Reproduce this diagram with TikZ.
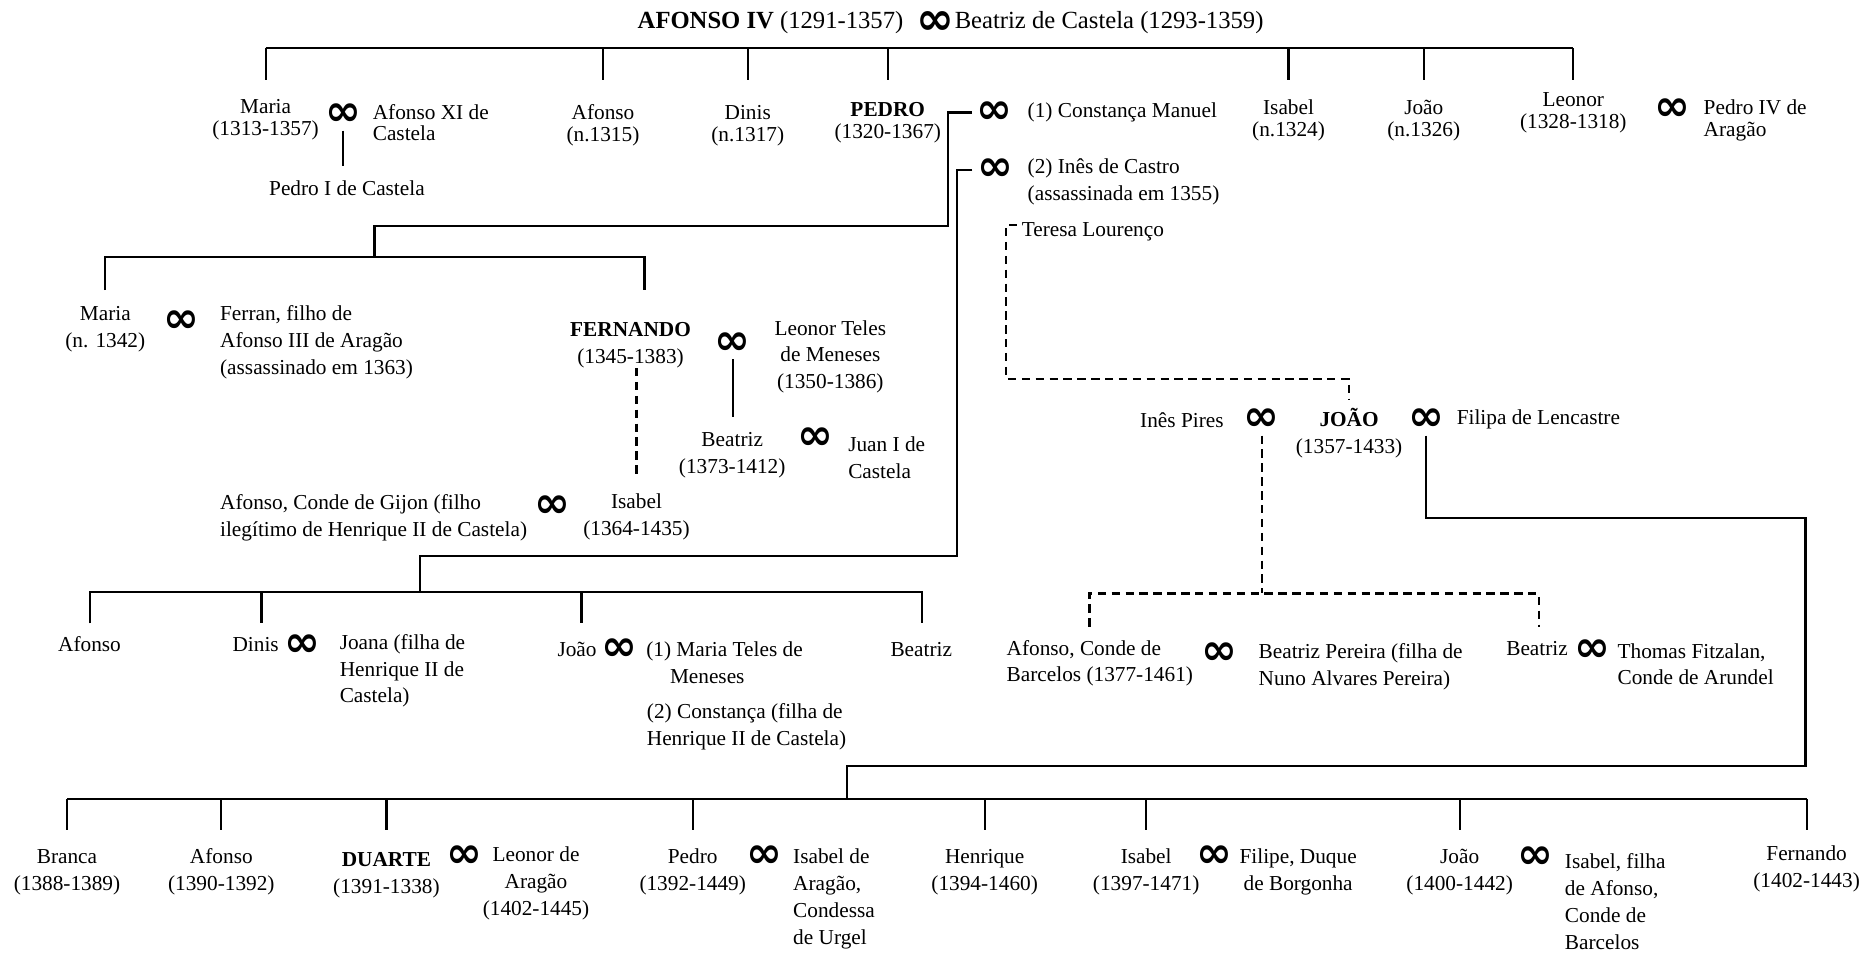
\documentclass[tikz,border=0pt]{standalone}
\usepackage{fontspec}
\setmainfont{Liberation Serif}
\newfontfamily\symf{DejaVu Sans}
\usetikzlibrary{calc}
\newcommand{\fnt}{\fontsize{8.9pt}{11.2pt}\selectfont}
\newcommand{\fntt}{\fontsize{8.9pt}{9pt}\selectfont}
\newcommand{\fnttop}{\fontsize{10.3pt}{12pt}\selectfont}
\begin{document}
\begin{tikzpicture}[x=0.5pt,y=-0.5pt,
  every node/.style={inner sep=0pt,outer sep=0pt,font=\fnt},
  ctr/.style={anchor=base,align=center},
  lft/.style={anchor=base west,align=left},
  tight/.style={font=\fntt},
  marr/.style={font=\symf\bfseries\fontsize{18pt}{18pt}\selectfont,inner sep=2pt,anchor=center},
  link/.style={line width=0.9pt},
  illeg/.style={line width=0.9pt,dash pattern=on 3.5pt off 2.3pt},
]
\useasboundingbox (0,0) rectangle (1568,797);

% ---- generation 0
\node[lft,font=\fnttop] (afonsoIV) at (533,24) {\textbf{AFONSO IV} (1291-1357)};
\node[marr,font=\symf\bfseries\fontsize{19pt}{19pt}\selectfont] (m0) at (782,19) {∞};
\node[lft,font=\fnttop] (beatrizC0) at (798,24) {Beatriz de Castela (1293-1359)};

% ---- generation 1 (base anchor = last line)
\node[ctr,tight] (maria) at (222,113) {Maria\\(1313-1357)};
\node[marr] (m1) at (287,96) {∞};
\node[lft,tight] (afonsoXI) at (311.6,117.7) {Afonso XI de\\Castela};
\node[ctr] (pedroI) at (290,163) {Pedro I de Castela};
\node[ctr,tight] (afonsoA) at (504,118) {Afonso\\(n.1315)};
\node[ctr,tight] (dinisA) at (625,118) {Dinis\\(n.1317)};
\node[ctr,tight] (pedro) at (742,115.5) {\textbf{PEDRO}\\(1320-1367)};
\node[ctr,tight] (isabelA) at (1077,114) {Isabel\\(n.1324)};
\node[ctr,tight] (joaoA) at (1190,114) {João\\(n.1326)};
\node[ctr,tight] (leonor) at (1315,107) {Leonor\\(1328-1318)};
\node[marr] (mL) at (1397.6,92) {∞};
\node[lft,tight] (pedroIV) at (1424,114) {Pedro IV de\\Aragão};

\coordinate (barA) at (0,40.4);
\coordinate (stubA) at (0,67);
\draw[link] (maria |- barA) -- (leonor |- barA);
\foreach \n in {maria,afonsoA,dinisA,pedro,isabelA,joaoA,leonor}
  \draw[link] (\n |- barA) -- (\n |- stubA);
\draw[link,shorten >=6pt] (m1.south) -- (m1.south |- pedroI.north);

% ---- Pedro's marriages
\node[marr] (mC) at (831.5,94) {∞};
\node[lft] (constanca) at (859,98.4) {(1) Constança Manuel};
\node[marr] (mI) at (831.7,142) {∞};
\node[lft] (inesC) at (859,167.3) {(2) Inês de Castro\\(assassinada em 1355)};
\node[lft] (teresa) at (854,197.8) {Teresa Lourenço};

% children of Constança
\node[ctr] (mariaC) at (88,290.4) {Maria\\(n. 1342)};
\node[marr] (m2) at (151.8,269) {∞};
\node[lft] (ferran) at (184,312.8) {Ferran, filho de\\Afonso III de Aragão\\(assassinado em 1363)};
\node[ctr] (fernando) at (527,303.8) {\textbf{FERNANDO}\\(1345-1383)};
\node[marr] (m3) at (612.4,287) {∞};
\node[ctr] (leonorT) at (694,324.8) {Leonor Teles\\de Meneses\\(1350-1386)};
\node[ctr] (beatrizF) at (612,395.4) {Beatriz\\(1373-1412)};
\node[marr] (m4) at (681.5,366.4) {∞};
\node[lft] (juan) at (709,399.9) {Juan I de\\Castela};
\node[lft] (gijon) at (184,448.4) {Afonso, Conde de Gijon (filho\\ilegítimo de Henrique II de Castela)};
\node[marr] (m5) at (462,423.5) {∞};
\node[ctr] (isabelF) at (532,447.4) {Isabel\\(1364-1435)};

\coordinate (kC) at (792,189);
\coordinate (bC) at (313,214.5);
\coordinate (sC1) at (88,242.4);
\coordinate (sC2) at (538.7,242.4);
\draw[link] (mC.west) -- (mC.west -| kC) -- (kC) -- (kC -| bC) -- (bC);
\draw[link] (sC1) -- (sC1 |- bC) -- (sC2 |- bC) -- (sC2);
\draw[link,shorten >=6.5pt] (m3.south) -- (m3.south |- beatrizF.north);
\draw[illeg,shorten >=7.5pt] (isabelF.north |- fernando.south) -- (isabelF.north);

% children of Inês de Castro
\node[lft] (afonsoI) at (48.6,544.7) {Afonso};
\node[lft] (dinisI) at (194.4,544.7) {Dinis};
\node[marr] (m6) at (253,540) {∞};
\node[lft] (joana) at (284,587.5) {Joana (filha de\\Henrique II de\\Castela)};
\node[lft] (joaoI) at (466,548.9) {João};
\node[marr] (m7) at (517.6,543.3) {∞};
\node[lft] (mteles) at (540.2,571.4) {(1) Maria Teles de\\\hspace*{9.9pt}Meneses};
\node[lft] (constB) at (540.7,622.8) {(2) Constança (filha de\\Henrique II de Castela)};
\node[ctr] (beatrizI) at (770,549) {Beatriz};

\coordinate (kI) at (800,465);
\coordinate (bI) at (351,494.5);
\coordinate (sI1) at (75,521);
\coordinate (sI2) at (218.5,521);
\coordinate (sI3) at (486,521);
\coordinate (sI4) at (770.7,521);
\draw[link] (mI.west) -- (mI.west -| kI) -- (kI) -- (kI -| bI) -- (bI);
\draw[link] (sI1) -- (sI1 |- bI) -- (sI4 |- bI) -- (sI4);
\draw[link] (sI2 |- bI) -- (sI2);
\draw[link] (sI3 |- bI) -- (sI3);

% ---- João I
\node[ctr] (joao) at (1127.6,379.1) {\textbf{JOÃO}\\(1357-1433)};
\node[lft] (inesP) at (953,357) {Inês Pires};
\node[marr] (m8) at (1054.7,351) {∞};
\node[marr] (m9) at (1192,351) {∞};
\node[lft] (filipa) at (1217.6,354.4) {Filipa de Lencastre};

\coordinate (tT) at (850,188);
\coordinate (tA) at (841,316.8);
\draw[illeg,shorten >=4pt] (tT) -- (tT -| tA) -- (tA) -- (tA -| joao) -- (joao.north);

% children of Inês Pires
\node[lft] (afonsoB) at (841.4,569.9) {Afonso, Conde de\\Barcelos (1377-1461)};
\node[marr] (m10) at (1019.4,546) {∞};
\node[lft] (beatrizP) at (1052,572.7) {Beatriz Pereira (filha de\\Nuno Alvares Pereira)};
\node[lft] (beatrizT) at (1259,547.5) {Beatriz};
\node[marr] (m11) at (1331,544) {∞};
\node[lft] (thomas) at (1352,572.4) {Thomas Fitzalan,\\Conde de Arundel};

\coordinate (bP) at (1052,496);
\coordinate (sP1) at (910.6,523.8);
\coordinate (sP2) at (1286,523.8);
\draw[illeg] (m8.south) -- (m8.south |- bP);
\draw[illeg] (sP1) -- (sP1 |- bP) -- (sP2 |- bP) -- (sP2);

% children of Filipa de Lencastre
\node[ctr] (branca) at (56,744.4) {Branca\\(1388-1389)};
\node[ctr] (afonsoF) at (185,744.4) {Afonso\\(1390-1392)};
\node[ctr] (duarte) at (323,746.4) {\textbf{DUARTE}\\(1391-1338)};
\node[marr] (m12) at (388,716) {∞};
\node[ctr] (leonorA) at (448,764.8) {Leonor de\\Aragão\\(1402-1445)};
\node[ctr] (pedroF) at (579,744.4) {Pedro\\(1392-1449)};
\node[marr] (m13) at (639,716) {∞};
\node[lft] (isabelAr) at (663,789.2) {Isabel de\\Aragão,\\Condessa\\de Urgel};
\node[ctr] (henrique) at (823,744.4) {Henrique\\(1394-1460)};
\node[ctr] (isabelFi) at (958,744.4) {Isabel\\(1397-1471)};
\node[marr] (m14) at (1015,716) {∞};
\node[ctr] (filipe) at (1085,744.4) {Filipe, Duque\\de Borgonha};
\node[ctr] (joaoF) at (1220,744.4) {João\\(1400-1442)};
\node[marr] (m15) at (1283,717) {∞};
\node[lft] (isabelB) at (1308,793.2) {Isabel, filha\\de Afonso,\\Conde de\\Barcelos};
\node[ctr] (fernandoF) at (1510,741.4) {Fernando\\(1402-1443)};

\coordinate (f1) at (1509,433);
\coordinate (f2) at (708,640);
\coordinate (bF) at (708,668);
\draw[link] (m9.south) -- (m9.south |- f1) -- (f1) -- (f1 |- f2) -- (f2) -- (bF);
\coordinate (sF) at (0,694);
\draw[link] (branca |- bF) -- (fernandoF |- bF);
\foreach \n in {branca,afonsoF,duarte,pedroF,henrique,isabelFi,joaoF,fernandoF}
  \draw[link] (\n |- bF) -- (\n |- sF);
\end{tikzpicture}
\end{document}
